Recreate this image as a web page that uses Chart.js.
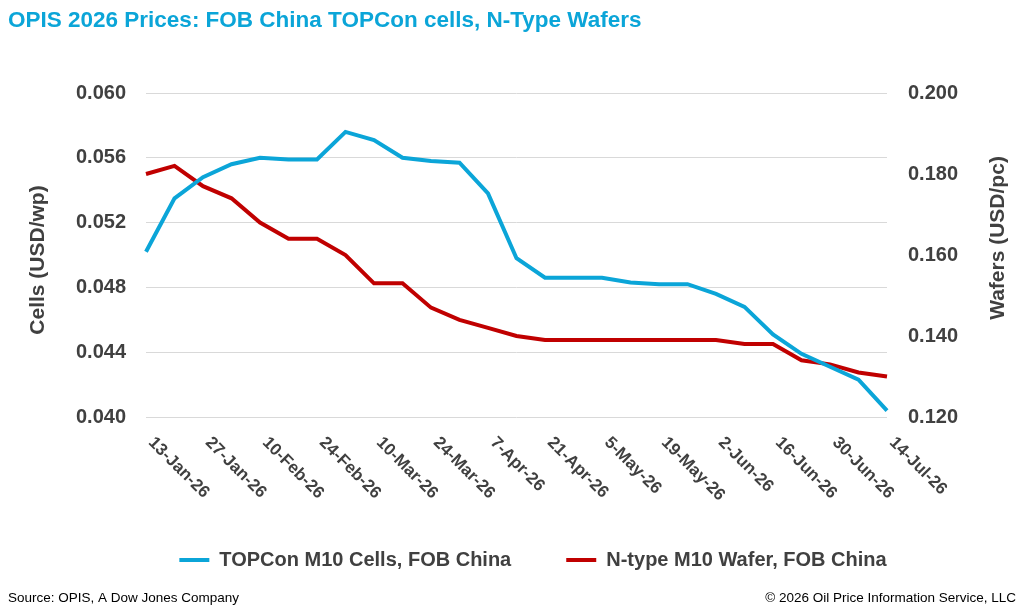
<!DOCTYPE html>
<html>
<head>
<meta charset="utf-8">
<script src="https://cdn.jsdelivr.net/npm/chart.js@4.4.1/dist/chart.umd.min.js"></script>
<style>
  html, body { margin: 0; padding: 0; background: #fff; }
  #wrap { position: relative; width: 1024px; height: 613px; }
</style>
</head>
<body>
<div id="wrap"><canvas id="chart"></canvas></div>
<script>
  // weekly assessment dates (every other one is labelled on the axis)
  const weeks = [
    '13-Jan-26', '20-Jan-26', '27-Jan-26', '3-Feb-26', '10-Feb-26', '17-Feb-26', '24-Feb-26',
    '3-Mar-26', '10-Mar-26', '17-Mar-26', '24-Mar-26', '31-Mar-26', '7-Apr-26', '14-Apr-26',
    '21-Apr-26', '28-Apr-26', '5-May-26', '12-May-26', '19-May-26', '26-May-26', '2-Jun-26',
    '9-Jun-26', '16-Jun-26', '23-Jun-26', '30-Jun-26', '7-Jul-26', '14-Jul-26',
  ];

  // TOPCon M10 cells, USD/wp (left axis)
  const cells = [
    0.0502, 0.0535, 0.0548, 0.0556, 0.0560, 0.0559, 0.0559,
    0.0576, 0.0571, 0.0560, 0.0558, 0.0557, 0.0538, 0.0498,
    0.0486, 0.0486, 0.0486, 0.0483, 0.0482, 0.0482, 0.0476,
    0.0468, 0.0451, 0.0439, 0.0431, 0.0423, 0.0404,
  ];

  // N-type M10 wafers, USD/pc (right axis)
  const wafers = [
    0.180, 0.182, 0.177, 0.174, 0.168, 0.164, 0.164,
    0.160, 0.153, 0.153, 0.147, 0.144, 0.142, 0.140,
    0.139, 0.139, 0.139, 0.139, 0.139, 0.139, 0.139,
    0.138, 0.138, 0.134, 0.133, 0.131, 0.130,
  ];

  const cellsRange = [0.040, 0.060, 0.004];
  const wafersRange = [0.120, 0.200, 0.020];

  const blue = '#0BA5D8';
  const red = '#C00000';
  const ink = '#404040';
  const font = "'Liberation Sans', Arial, sans-serif";

  Chart.defaults.font.family = font;
  Chart.defaults.color = ink;

  // title, rotated axis titles, slanted date labels and footer
  const decor = {
    id: 'decor',
    afterDraw(chart) {
      const { ctx } = chart;
      const x = chart.scales.x;
      ctx.save();

      ctx.fillStyle = blue;
      ctx.font = 'bold 22.5px ' + font;
      ctx.textAlign = 'left';
      ctx.textBaseline = 'alphabetic';
      ctx.fillText('OPIS 2026 Prices: FOB China TOPCon cells, N-Type Wafers', 8, 27);

      ctx.fillStyle = ink;
      ctx.font = 'bold 21px ' + font;
      ctx.textAlign = 'center';
      ctx.textBaseline = 'middle';
      ctx.save();
      ctx.translate(38, 260);
      ctx.rotate(-Math.PI / 2);
      ctx.fillText('Cells (USD/wp)', 0, 0);
      ctx.restore();
      ctx.save();
      ctx.translate(998, 238);
      ctx.rotate(-Math.PI / 2);
      ctx.fillText('Wafers (USD/pc)', 0, 0);
      ctx.restore();

      ctx.font = 'bold 17px ' + font;
      ctx.textAlign = 'left';
      ctx.textBaseline = 'top';
      weeks.forEach((w, i) => {
        if (i % 2) return;
        ctx.save();
        ctx.translate(x.getPixelForValue(i) + 11, 434);
        ctx.rotate(Math.PI / 4);
        ctx.fillText(w, 0, 0);
        ctx.restore();
      });

      ctx.fillStyle = '#000';
      ctx.font = '13.5px ' + font;
      ctx.textBaseline = 'alphabetic';
      ctx.fillText('Source: OPIS, A Dow Jones Company', 8, 602);
      ctx.textAlign = 'right';
      ctx.fillText('\u00A9 2026 Oil Price Information Service, LLC', 1016, 602);

      ctx.restore();
    },
  };

  new Chart(document.getElementById('chart'), {
    type: 'line',
    data: {
      labels: weeks,
      datasets: [
        {
          label: 'TOPCon M10 Cells, FOB China',
          data: cells,
          yAxisID: 'y',
          borderColor: blue,
          backgroundColor: blue,
          borderWidth: 4,
          pointRadius: 0,
          tension: 0,
        },
        {
          label: 'N-type M10 Wafer, FOB China',
          data: wafers,
          yAxisID: 'y1',
          borderColor: red,
          backgroundColor: red,
          borderWidth: 4,
          pointRadius: 0,
          tension: 0,
        },
      ],
    },
    options: {
      responsive: true,
      maintainAspectRatio: false,
      animation: false,
      layout: { padding: { left: 42, top: 93, right: 0, bottom: 33 } },
      plugins: {
        title: { display: false },
        tooltip: { enabled: false },
        legend: {
          display: true,
          position: 'bottom',
          labels: {
            usePointStyle: true,
            pointStyle: 'line',
            pointStyleWidth: 30,
            padding: 55,
            color: ink,
            font: { size: 20, weight: 'bold' },
          },
        },
      },
      scales: {
        x: {
          offset: false,
          grid: { display: false },
          border: { display: false },
          ticks: { display: false },
          afterFit: (s) => { s.height = 78; },
        },
        y: {
          position: 'left',
          min: cellsRange[0],
          max: cellsRange[1],
          border: { display: false },
          grid: { color: '#D9D9D9', drawTicks: false },
          ticks: {
            stepSize: cellsRange[2],
            padding: 20,
            color: ink,
            font: { size: 20, weight: 'bold' },
            callback: (v) => v.toFixed(3),
          },
          afterFit: (s) => { s.width = 104; },
        },
        y1: {
          position: 'right',
          min: wafersRange[0],
          max: wafersRange[1],
          border: { display: false },
          grid: { display: false, drawTicks: false },
          ticks: {
            stepSize: wafersRange[2],
            padding: 21,
            color: ink,
            font: { size: 20, weight: 'bold' },
            callback: (v) => v.toFixed(3),
          },
          afterFit: (s) => { s.width = 137; },
        },
      },
    },
    plugins: [decor],
  });
</script>
</body>
</html>
